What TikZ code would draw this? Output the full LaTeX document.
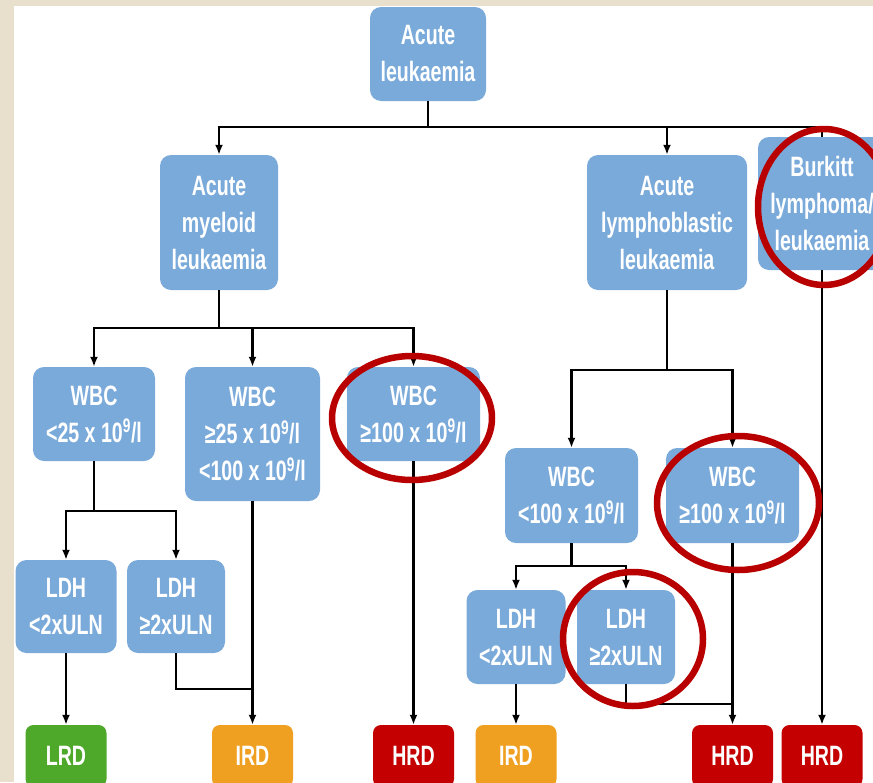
\documentclass[tikz,border=0pt]{standalone}
\usepackage{fontspec}
\setmainfont{Liberation Sans}[FakeStretch=0.70]
\usetikzlibrary{arrows.meta}
\definecolor{bg}{RGB}{232,224,204}
\definecolor{boxblue}{RGB}{122,170,218}
\definecolor{lrdgreen}{RGB}{78,168,42}
\definecolor{irdorange}{RGB}{240,160,32}
\definecolor{hrdred}{RGB}{196,0,0}
\definecolor{ringred}{RGB}{184,0,0}
\begin{document}
\begin{tikzpicture}[x=1pt,y=-1pt,
  box/.style={fill=boxblue, rounded corners=11pt, text=white, align=center,
    inner sep=0pt, font=\fontsize{28}{37}\selectfont\bfseries},
  res/.style={rounded corners=8pt, text=white, align=center, inner sep=0pt,
    minimum width=81pt, minimum height=62pt, font=\fontsize{28}{34}\selectfont\bfseries},
  ln/.style={line width=2.2pt, black},
  arr/.style={-{Latex[length=10pt,width=8pt]}},
  ring/.style={draw=ringred, line width=6.5pt}]
\useasboundingbox (0,0) rectangle (873,782);
\clip (0,0) rectangle (873,782);
\fill[bg] (0,0) rectangle (873,782);
\fill[white] (14,6) rectangle (873,782);

% nodes
\node[box, minimum width=116pt, minimum height=94pt] (root) at (428,54) {Acute\\leukaemia};
\node[box, minimum width=118pt, minimum height=135pt] (aml) at (219,222.5) {Acute\\myeloid\\leukaemia};
\node[box, minimum width=160pt, minimum height=135pt] (all) at (667,222.5) {Acute\\lymphoblastic\\leukaemia};
\node[box, minimum width=128pt, minimum height=133pt] (bur) at (822,203.5) {Burkitt\\lymphoma/\\leukaemia};

\node[box, minimum width=122pt, minimum height=94pt] (w1) at (94,414) {WBC\\<25 x 10\textsuperscript{9}/l};
\node[box, minimum width=135pt, minimum height=134pt] (w2) at (252.5,434) {WBC\\≥25 x 10\textsuperscript{9}/l\\<100 x 10\textsuperscript{9}/l};
\node[box, minimum width=133pt, minimum height=94pt] (w3) at (413.5,414) {WBC\\≥100 x 10\textsuperscript{9}/l};

\node[box, minimum width=101pt, minimum height=93pt] (l1) at (66,606.5) {LDH\\<2xULN};
\node[box, minimum width=98pt, minimum height=93pt] (l2) at (176,606.5) {LDH\\≥2xULN};

\node[box, minimum width=133pt, minimum height=95pt] (w4) at (571.5,495.5) {WBC\\<100 x 10\textsuperscript{9}/l};
\node[box, minimum width=133pt, minimum height=95pt] (w5) at (732.5,495.5) {WBC\\≥100 x 10\textsuperscript{9}/l};

\node[box, minimum width=99pt, minimum height=94pt] (l3) at (516,637) {LDH\\<2xULN};
\node[box, minimum width=98pt, minimum height=94pt] (l4) at (626,637) {LDH\\≥2xULN};

\node[res, fill=lrdgreen] (lrd) at (66,756) {LRD};
\node[res, fill=irdorange] (ird1) at (252.5,756) {IRD};
\node[res, fill=hrdred] (hrd1) at (413.5,756) {HRD};
\node[res, fill=irdorange] (ird2) at (516,756) {IRD};
\node[res, fill=hrdred] (hrd2) at (732.5,756) {HRD};
\node[res, fill=hrdred] (hrd3) at (822,756) {HRD};

% junctions
\coordinate (j0) at (428,127);
\coordinate (j1) at (219,328);
\coordinate (j2) at (94,511);
\coordinate (j3) at (252.5,689);
\coordinate (j4) at (667,370);
\coordinate (j5) at (571.5,566);
\coordinate (j6) at (732.5,704);

% connectors
\draw[ln] (root) -- (j0);
\draw[ln,arr] (j0) -| (aml);
\draw[ln,arr] (j0) -| (all);
\draw[ln] (j0) -| (bur);

\draw[ln] (aml) -- (j1);
\draw[ln,arr] (j1) -| (w1);
\draw[ln,arr] (j1) -| (w2);
\draw[ln,arr] (j1) -| (w3);

\draw[ln] (w1) -- (j2);
\draw[ln,arr] (j2) -| (l1);
\draw[ln,arr] (j2) -| (l2);
\draw[ln,arr] (l1) -- (lrd);
\draw[ln] (l2) |- (j3);
\draw[ln,arr] (w2) -- (ird1);
\draw[ln,arr] (w3) -- (hrd1);

\draw[ln] (all) -- (j4);
\draw[ln,arr] (j4) -| (w4);
\draw[ln,arr] (j4) -| (w5);

\draw[ln] (w4) -- (j5);
\draw[ln,arr] (j5) -| (l3);
\draw[ln,arr] (j5) -| (l4);
\draw[ln,arr] (l3) -- (ird2);
\draw[ln] (l4) |- (j6);
\draw[ln,arr] (w5) -- (hrd2);
\draw[ln,arr] (bur) -- (hrd3);

% red rings
\draw[ring] (824,207) ellipse [x radius=66pt, y radius=78pt];
\draw[ring] (412,418) ellipse [x radius=80pt, y radius=62pt];
\draw[ring] (738,503) ellipse [x radius=81pt, y radius=67pt];
\draw[ring] (633,639) ellipse [x radius=70pt, y radius=67pt];
\end{tikzpicture}
\end{document}
